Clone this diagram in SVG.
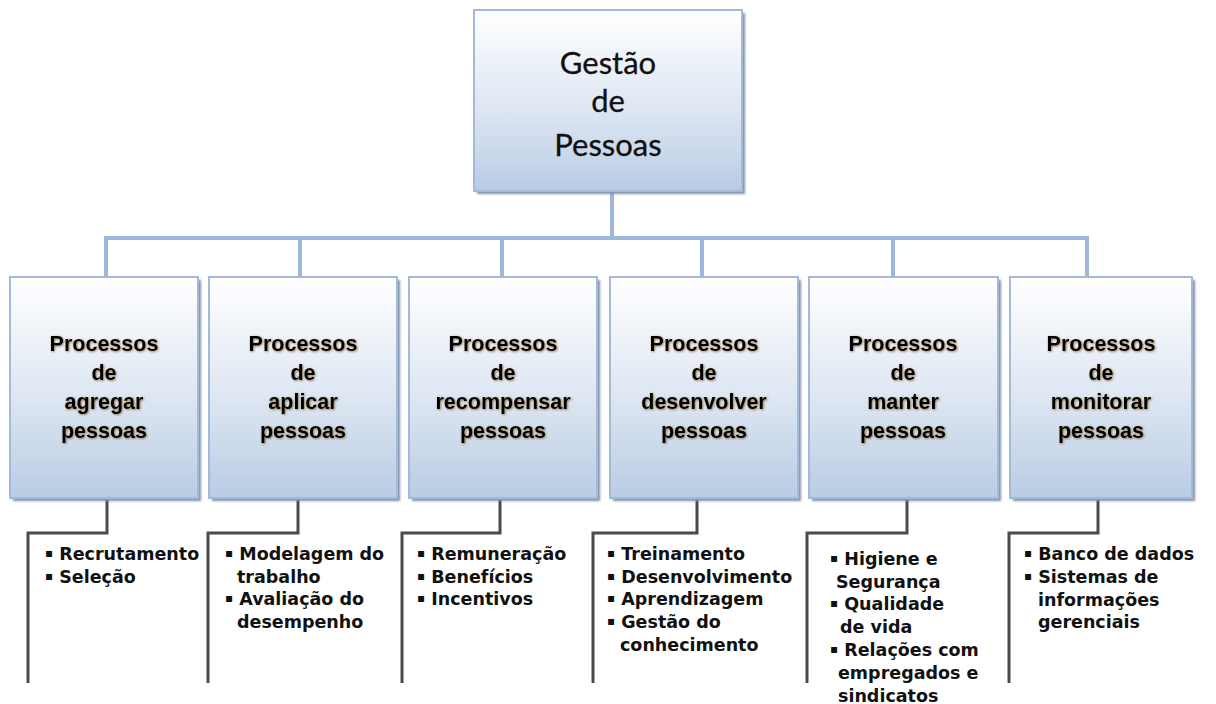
<svg xmlns="http://www.w3.org/2000/svg" width="1216" height="704" viewBox="0 0 1216 704">
<defs>
<linearGradient id="g" x1="0" y1="0" x2="0" y2="1">
<stop offset="0" stop-color="#ffffff"/>
<stop offset="0.55" stop-color="#dde6f2"/>
<stop offset="1" stop-color="#b9cce4"/>
</linearGradient>
<filter id="sh" x="-10%" y="-10%" width="120%" height="120%">
<feGaussianBlur stdDeviation="1.2"/>
</filter>
<filter id="ts" x="-10%" y="-20%" width="120%" height="140%">
<feDropShadow dx="0.8" dy="0.8" stdDeviation="0.9" flood-color="#6b4a1a" flood-opacity="0.75"/>
</filter>
</defs>
<style>
.box{fill:url(#g);stroke:#a3bbd9;stroke-width:2}
.shadow{fill:#7f93ad;filter:url(#sh)}
.top{font-family:Lato,"Open Sans",sans-serif;font-size:31px;fill:#111;text-anchor:middle;stroke:#111;stroke-width:0.3}
.title{font-family:"Liberation Sans",Arial,sans-serif;font-weight:bold;font-size:21.5px;fill:#000;text-anchor:middle;filter:url(#ts)}
.item{font-family:"DejaVu Sans",Verdana,sans-serif;font-weight:bold;font-size:17.5px;fill:#111}
.b{font-size:12px}
.blue{fill:none;stroke:#9db8dc;stroke-width:4}
.dark{fill:none;stroke:#4a4a4a;stroke-width:3}
</style>
<g id="connectors">
<path class="blue" d="M612 192V238M106 277V238H1087V277M300 238V277M502 238V277M702 238V277M893 238V277"/>
<path class="dark" d="M107 500V533H28V683"/>
<path class="dark" d="M298 500V533H208V683"/>
<path class="dark" d="M500 500V533H402V683"/>
<path class="dark" d="M697 500V533H593V683"/>
<path class="dark" d="M907 500V533H807V683"/>
<path class="dark" d="M1098 500V533H1009V683"/>
</g>
<g id="root">
<rect class="shadow" x="477" y="13" width="268" height="181"/>
<rect class="box" x="474" y="10" width="268" height="181"/>
<text class="top" x="608" y="74">Gestão</text>
<text class="top" x="608" y="112">de</text>
<text class="top" x="608" y="156">Pessoas</text>
</g>
<g id="p1">
<rect class="shadow" x="13" y="280" width="188" height="221"/>
<rect class="box" x="10" y="277" width="188" height="221"/>
<text class="title" x="104" y="351">Processos</text>
<text class="title" x="104" y="380">de</text>
<text class="title" x="104" y="409">agregar</text>
<text class="title" x="104" y="438">pessoas</text>
</g>
<g id="p2">
<rect class="shadow" x="212" y="280" width="188" height="221"/>
<rect class="box" x="209" y="277" width="188" height="221"/>
<text class="title" x="303" y="351">Processos</text>
<text class="title" x="303" y="380">de</text>
<text class="title" x="303" y="409">aplicar</text>
<text class="title" x="303" y="438">pessoas</text>
</g>
<g id="p3">
<rect class="shadow" x="412" y="280" width="188" height="221"/>
<rect class="box" x="409" y="277" width="188" height="221"/>
<text class="title" x="503" y="351">Processos</text>
<text class="title" x="503" y="380">de</text>
<text class="title" x="503" y="409">recompensar</text>
<text class="title" x="503" y="438">pessoas</text>
</g>
<g id="p4">
<rect class="shadow" x="613" y="280" width="188" height="221"/>
<rect class="box" x="610" y="277" width="188" height="221"/>
<text class="title" x="704" y="351">Processos</text>
<text class="title" x="704" y="380">de</text>
<text class="title" x="704" y="409">desenvolver</text>
<text class="title" x="704" y="438">pessoas</text>
</g>
<g id="p5">
<rect class="shadow" x="812" y="280" width="189" height="221"/>
<rect class="box" x="809" y="277" width="189" height="221"/>
<text class="title" x="903" y="351">Processos</text>
<text class="title" x="903" y="380">de</text>
<text class="title" x="903" y="409">manter</text>
<text class="title" x="903" y="438">pessoas</text>
</g>
<g id="p6">
<rect class="shadow" x="1013" y="280" width="182" height="221"/>
<rect class="box" x="1010" y="277" width="182" height="221"/>
<text class="title" x="1101" y="351">Processos</text>
<text class="title" x="1101" y="380">de</text>
<text class="title" x="1101" y="409">monitorar</text>
<text class="title" x="1101" y="438">pessoas</text>
</g>
<g id="list1" class="item">
<text x="45" y="560"><tspan class="b" dy="-3">▪</tspan><tspan dy="3"> Recrutamento</tspan></text>
<text x="45" y="583"><tspan class="b" dy="-3">▪</tspan><tspan dy="3"> Seleção</tspan></text>
</g>
<g id="list2" class="item">
<text x="225" y="560"><tspan class="b" dy="-3">▪</tspan><tspan dy="3"> Modelagem do</tspan></text>
<text x="237" y="583">trabalho</text>
<text x="225" y="605"><tspan class="b" dy="-3">▪</tspan><tspan dy="3"> Avaliação do</tspan></text>
<text x="237" y="628">desempenho</text>
</g>
<g id="list3" class="item">
<text x="417" y="560"><tspan class="b" dy="-3">▪</tspan><tspan dy="3"> Remuneração</tspan></text>
<text x="417" y="583"><tspan class="b" dy="-3">▪</tspan><tspan dy="3"> Benefícios</tspan></text>
<text x="417" y="605"><tspan class="b" dy="-3">▪</tspan><tspan dy="3"> Incentivos</tspan></text>
</g>
<g id="list4" class="item">
<text x="607" y="560"><tspan class="b" dy="-3">▪</tspan><tspan dy="3"> Treinamento</tspan></text>
<text x="607" y="583"><tspan class="b" dy="-3">▪</tspan><tspan dy="3"> Desenvolvimento</tspan></text>
<text x="607" y="605"><tspan class="b" dy="-3">▪</tspan><tspan dy="3"> Aprendizagem</tspan></text>
<text x="607" y="628"><tspan class="b" dy="-3">▪</tspan><tspan dy="3"> Gestão do</tspan></text>
<text x="620" y="651">conhecimento</text>
</g>
<g id="list5" class="item">
<text x="830" y="565"><tspan class="b" dy="-3">▪</tspan><tspan dy="3"> Higiene e</tspan></text>
<text x="836" y="588">Segurança</text>
<text x="830" y="610"><tspan class="b" dy="-3">▪</tspan><tspan dy="3"> Qualidade</tspan></text>
<text x="840" y="633">de vida</text>
<text x="830" y="656"><tspan class="b" dy="-3">▪</tspan><tspan dy="3"> Relações com</tspan></text>
<text x="838" y="679">empregados e</text>
<text x="838" y="702">sindicatos</text>
</g>
<g id="list6" class="item">
<text x="1024" y="560"><tspan class="b" dy="-3">▪</tspan><tspan dy="3"> Banco de dados</tspan></text>
<text x="1024" y="583"><tspan class="b" dy="-3">▪</tspan><tspan dy="3"> Sistemas de</tspan></text>
<text x="1038" y="606">informações</text>
<text x="1038" y="628">gerenciais</text>
</g>
</svg>
